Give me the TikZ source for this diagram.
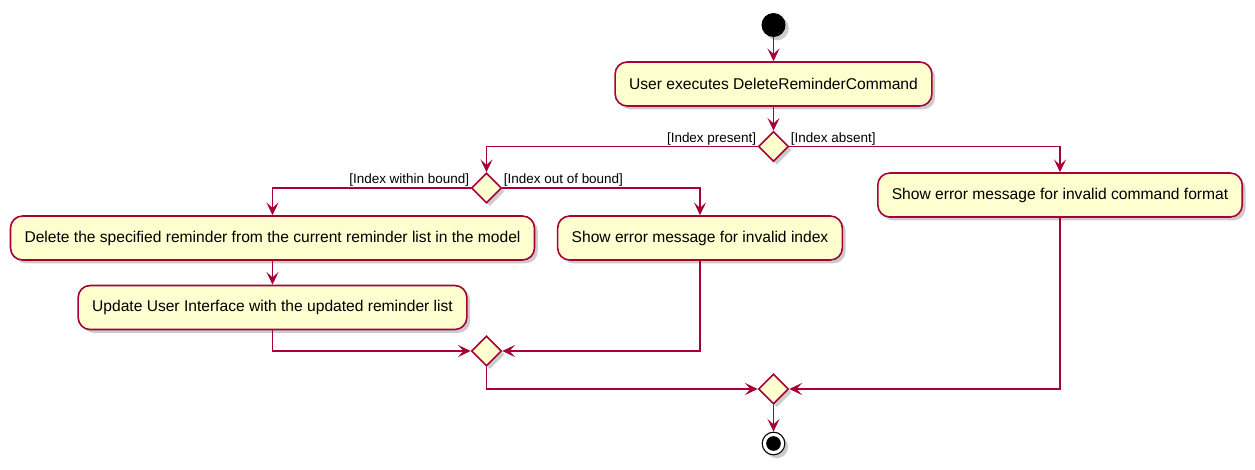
\documentclass[tikz,border=0pt]{standalone}
\usepackage{fontspec}
\setmainfont{Liberation Sans}
\usetikzlibrary{arrows.meta,shapes.geometric,shadows}
\definecolor{umlred}{HTML}{A80036}
\definecolor{umlfill}{HTML}{FEFECE}

\begin{document}
\begin{tikzpicture}[x=0.75pt, y=-0.75pt,
	umlshadow/.style={drop shadow={shadow xshift=2.5pt, shadow yshift=-2.5pt, fill=black, opacity=0.2}},
	action/.style={draw=umlred, fill=umlfill, line width=1.2pt, rounded corners=9pt, minimum height=33pt, inner xsep=10.5pt, font=\fontsize{11.7}{14}\selectfont, umlshadow},
	branch/.style={diamond, draw=umlred, fill=umlfill, line width=1.2pt, minimum width=22.5pt, minimum height=22.5pt, inner sep=0pt, umlshadow},
	flow/.style={draw=umlred, line width=1.2pt, -{Stealth[length=9.5pt, width=9pt, inset=4pt]}},
	guard/.style={font=\fontsize{10.1}{12}\selectfont, inner sep=1pt}]
			%%%%% START %%%%%
			\useasboundingbox (0, 0) rectangle (1255, 469);
			
			\node[circle, fill=black, minimum size=18pt, inner sep=0pt, umlshadow] (start) at (773.5, 25) {};
			\node[action] (execute) at (773.5, 84) {User executes DeleteReminderCommand};
			\node[branch] (present) at (773.5, 146.5) {};
			\node[action] (badformat) at (1060, 195) {Show error message for invalid command format};
			\node[branch] (bound) at (486.5, 188) {};
			\node[action] (remove) at (272.5, 238) {Delete the specified reminder from the current reminder list in the model};
			\node[action] (badindex) at (700, 238) {Show error message for invalid index};
			\node[action] (refresh) at (272.5, 307.5) {Update User Interface with the updated reminder list};
			\node[branch] (joinbound) at (486.5, 351) {};
			\node[branch] (joinall) at (773.5, 389) {};
			\node[circle, draw=black, fill=white, line width=0.8pt, minimum size=17pt, inner sep=0pt, umlshadow] (stop) at (773.5, 443.5) {};
			\node[circle, fill=black, minimum size=11pt, inner sep=0pt] at (stop) {};
			
			\draw[flow] (start) -- (execute);
			\draw[flow] (execute) -- (present);
			\draw[flow] (present.west) -| (bound.north);
			\draw[flow] (present.east) -| (badformat.north);
			\node[guard, anchor=south east] at (present.west) {[Index present]};
			\node[guard, anchor=south west] at (present.east) {[Index absent]};
			
			\draw[flow] (bound.west) -| (remove.north);
			\draw[flow] (bound.east) -| (badindex.north);
			\node[guard, anchor=south east] at (bound.west) {[Index within bound]};
			\node[guard, anchor=south west] at (bound.east) {[Index out of bound]};
			
			\draw[flow] (remove) -- (refresh);
			\draw[flow] (refresh.south) |- (joinbound.west);
			\draw[flow] (badindex.south) |- (joinbound.east);
			\draw[flow] (joinbound.south) |- (joinall.west);
			\draw[flow] (badformat.south) |- (joinall.east);
			\draw[flow] (joinall) -- (stop);
			%%%%% END %%%%%
\end{tikzpicture}
\end{document}
